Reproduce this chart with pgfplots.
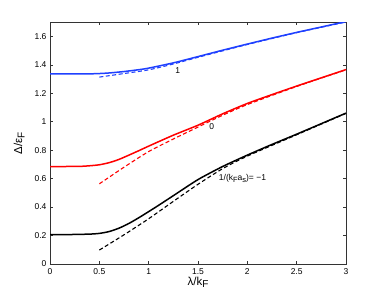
\documentclass[border=0pt]{standalone}
\usepackage{fontspec}
\setmainfont{Liberation Sans}
\usepackage{pgfplots}
\pgfplotsset{compat=1.18}
\definecolor{mblue}{rgb}{0.12,0.25,1}
\begin{document}
\begin{tikzpicture}
\path[use as bounding box] (0,0) rectangle (382pt,298pt);
\begin{axis}[
  at={(50pt,34pt)}, anchor=south west, name=ax,
  scale only axis, width=296pt, height=242pt,
  xmin=0, xmax=3, ymin=0, ymax=1.7,
  xtick={0,0.5,1,1.5,2,2.5,3},
  ytick={0,0.2,0.4,0.6,0.8,1,1.2,1.4,1.6},
  tick align=inside, major tick length=3pt,
  axis line style={black!80, line width=0.5pt},
  tick style={black!80, line width=0.4pt},
  /pgf/number format/assume math mode=true,
  tick label style={font=\fontsize{8.5}{10}\selectfont},
  xticklabel style={yshift=-1.5pt},
  xlabel={λ/k\raisebox{-0.45ex}{\fontsize{10}{10}\selectfont F}},
  xlabel style={at={(axis description cs:0.5,0)}, anchor=base, yshift=-21pt, font=\fontsize{11.5}{12}\selectfont},
]
% black
\addplot[black, line width=1.5pt, smooth, tension=0.4] coordinates {(0,0.207)(0.2,0.207)(0.4,0.21)(0.5,0.215)(0.6,0.228)(0.7,0.252)(0.8,0.285)(0.9,0.325)(1.0,0.368)(1.1,0.412)(1.25,0.48)(1.5,0.593)(1.75,0.685)(2.0,0.765)(2.25,0.84)(2.5,0.912)(2.75,0.986)(3.0,1.06)};
\addplot[black, line width=1.1pt, dash pattern=on 4pt off 2.5pt, smooth, tension=0.4] coordinates {(0.5,0.098)(0.75,0.205)(1.0,0.318)(1.25,0.44)(1.5,0.56)(1.75,0.67)(2.0,0.758)(2.5,0.908)(3.0,1.058)};
% red
\addplot[red, line width=1.5pt, smooth, tension=0.4] coordinates {(0,0.684)(0.3,0.686)(0.4,0.69)(0.5,0.697)(0.6,0.712)(0.7,0.735)(0.8,0.765)(0.9,0.796)(1.0,0.828)(1.25,0.905)(1.5,0.975)(1.75,1.055)(2.0,1.128)(2.25,1.19)(2.5,1.25)(2.75,1.308)(3.0,1.366)};
\addplot[red, line width=1.1pt, dash pattern=on 4pt off 2.5pt, smooth, tension=0.4] coordinates {(0.5,0.563)(0.75,0.68)(1.0,0.79)(1.25,0.878)(1.5,0.962)(1.75,1.045)(2.0,1.12)(2.5,1.247)(3.0,1.364)};
% blue
\addplot[mblue, line width=1.5pt, smooth, tension=0.4] coordinates {(0,1.335)(0.4,1.336)(0.5,1.338)(0.6,1.342)(0.75,1.352)(0.9,1.365)(1.0,1.376)(1.25,1.413)(1.5,1.457)(1.75,1.502)(2.0,1.545)(2.25,1.587)(2.5,1.627)(2.75,1.665)(3.0,1.703)};
\addplot[mblue, line width=1.1pt, dash pattern=on 4pt off 2.5pt, smooth, tension=0.4] coordinates {(0.5,1.313)(0.75,1.338)(1.0,1.364)(1.25,1.405)(1.5,1.452)(2.0,1.542)(2.5,1.625)(3.0,1.7)};
\node[font=\fontsize{8.5}{10}\selectfont] at (axis cs:1.295,1.357) {1};
\node[font=\fontsize{8.5}{10}\selectfont] at (axis cs:1.64,0.966) {0};
\node[font=\fontsize{8.5}{10}\selectfont, anchor=west, inner sep=0pt] at (axis cs:1.71,0.603) {1/(k\raisebox{-0.5ex}{\fontsize{7.5}{8}\selectfont F}a\raisebox{-0.5ex}{\fontsize{7.5}{8}\selectfont s})= −1};
\end{axis}
\node[font=\fontsize{11.5}{12}\selectfont, rotate=90, anchor=base] at ([xshift=-28pt]ax.west) {Δ/ε\raisebox{-0.45ex}{\fontsize{10}{10}\selectfont F}};
\end{tikzpicture}
\end{document}
